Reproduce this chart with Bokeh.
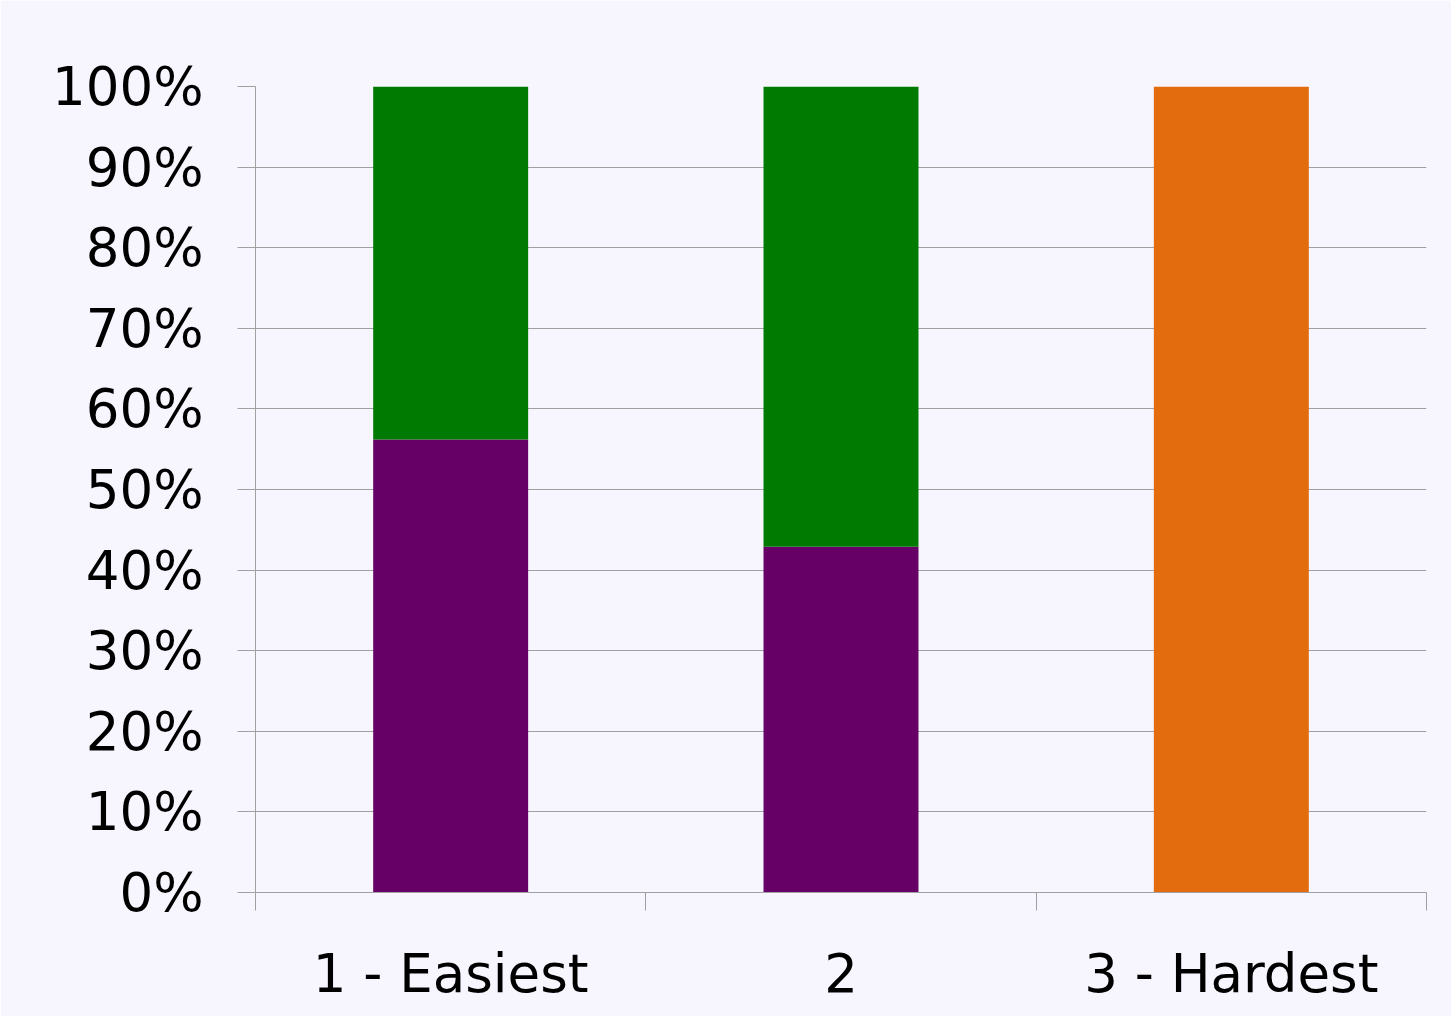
from bokeh.plotting import figure
from bokeh.models import FixedTicker, Range1d, ColumnDataSource
from bokeh.embed import file_html
from bokeh.resources import INLINE

categories = ["1 - Easiest", "2", "3 - Hardest"]
series_purple = [0.562, 0.429, 0.0]
series_green = [0.438, 0.571, 0.0]
series_orange = [0.0, 0.0, 1.0]
y_ticks = [0.0, 0.1, 0.2, 0.3, 0.4, 0.5, 0.6, 0.7, 0.8, 0.9, 1.0]
y_labels = ["0%", "10%", "20%", "30%", "40%", "50%", "60%", "70%", "80%", "90%", "100%"]

xpos = [i + 0.5 for i in range(len(categories))]
source = ColumnDataSource(dict(x=xpos, purple=series_purple, green=series_green, orange=series_orange))

BG = "#f7f5fe"
p = figure(width=1451, height=1016, output_backend="svg", toolbar_location=None,
           x_range=Range1d(0, len(categories)), y_range=Range1d(0, 1),
           min_border_left=255, min_border_right=25, min_border_top=86, min_border_bottom=124,
           background_fill_color=BG, border_fill_color=BG)
p.outline_line_color = None

p.vbar_stack(["purple", "green", "orange"], x="x", width=0.397, source=source,
             color=["#660066", "#007a00", "#e36c0e"], line_color=None)

font = "DejaVu Sans"
gray = "#a0a0a0"

p.yaxis.ticker = FixedTicker(ticks=y_ticks, minor_ticks=[])
p.yaxis.major_label_overrides = {t: l for t, l in zip(y_ticks, y_labels)}
p.yaxis.major_tick_out = 18
p.yaxis.major_tick_in = 0
p.yaxis.minor_tick_line_color = None
p.yaxis.major_label_standoff = 34
p.yaxis.major_label_text_font = font
p.yaxis.major_label_text_font_size = "53px"
p.yaxis.major_label_text_color = "#000000"
p.yaxis.axis_line_color = gray
p.yaxis.major_tick_line_color = gray

p.xaxis.ticker = FixedTicker(ticks=xpos, minor_ticks=[0, 1, 2, 3])
p.xaxis.major_label_overrides = {x: c for x, c in zip(xpos, categories)}
p.xaxis.major_tick_line_color = None
p.xaxis.minor_tick_out = 18
p.xaxis.minor_tick_in = 0
p.xaxis.minor_tick_line_color = gray
p.xaxis.major_label_standoff = 32
p.xaxis.major_label_text_font = font
p.xaxis.major_label_text_font_size = "53px"
p.xaxis.major_label_text_color = "#000000"
p.xaxis.axis_line_color = gray

p.xgrid.grid_line_color = None
p.ygrid.grid_line_color = gray
p.ygrid.grid_line_width = 1

open("out.html", "w").write(file_html(p, INLINE))
